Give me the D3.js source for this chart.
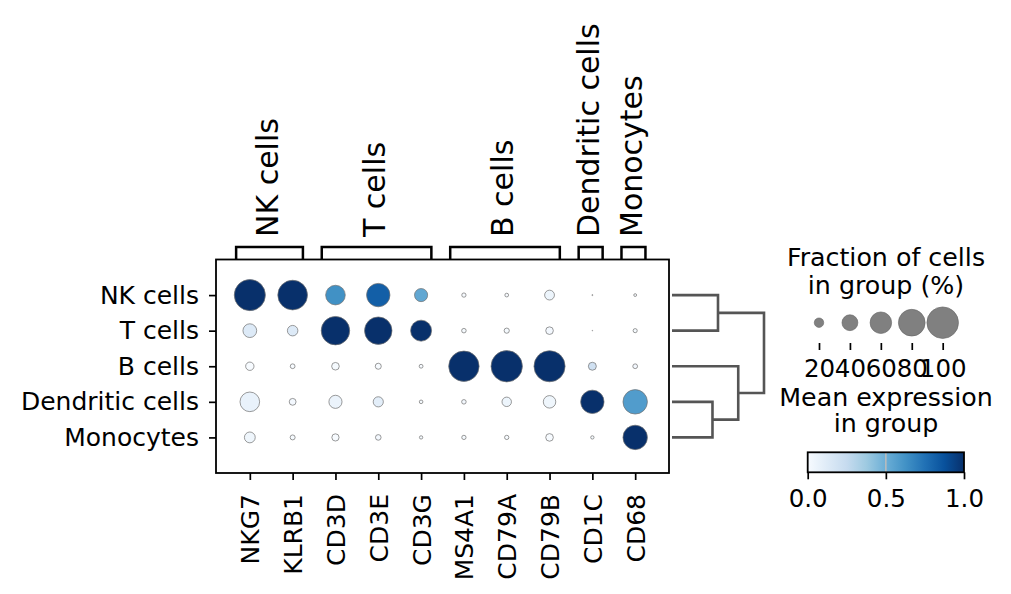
<!DOCTYPE html>
<html>
<head>
<meta charset="utf-8">
<script src="https://cdn.jsdelivr.net/npm/d3@7"></script>
<style>
  body { margin: 0; background: #fff; }
  svg text { font-family: 'DejaVu Sans', sans-serif; fill: #000; }
</style>
</head>
<body>
<svg id="chart"></svg>
<script>
// genes on the x axis, cell groups on the y axis
const genes = ['NKG7', 'KLRB1', 'CD3D', 'CD3E', 'CD3G', 'MS4A1', 'CD79A', 'CD79B', 'CD1C', 'CD68'];
const groups = ['NK cells', 'T cells', 'B cells', 'Dendritic cells', 'Monocytes'];

// marker gene groups shown as brackets on top (first / last gene index)
const bracketNames = ['NK cells', 'T cells', 'B cells', 'Dendritic cells', 'Monocytes'];
const bracketStart = [0, 2, 5, 8, 9];
const bracketEnd = [1, 4, 7, 8, 9];

// fraction of cells in group expressing the gene (rows = groups)
const fractionNK = [0.98, 0.92, 0.53, 0.67, 0.31, 0.07, 0.058, 0.21, 0.01, 0.04];
const fractionT = [0.33, 0.23, 0.87, 0.83, 0.58, 0.075, 0.09, 0.15, 0.005, 0.066];
const fractionB = [0.17, 0.08, 0.15, 0.11, 0.06, 0.95, 0.99, 0.98, 0.16, 0.08];
const fractionDC = [0.53, 0.13, 0.31, 0.22, 0.055, 0.075, 0.2, 0.29, 0.67, 0.71];
const fractionMono = [0.24, 0.085, 0.14, 0.10, 0.05, 0.07, 0.07, 0.15, 0.05, 0.71];

// mean expression, scaled 0..1 per gene
const meanNK = [1.0, 1.0, 0.63, 0.82, 0.53, 0.0, 0.0, 0.05, 0.0, 0.0];
const meanT = [0.13, 0.13, 1.0, 1.0, 1.0, 0.01, 0.01, 0.02, 0.0, 0.01];
const meanB = [0.0, 0.0, 0.01, 0.0, 0.0, 1.0, 1.0, 1.0, 0.2, 0.02];
const meanDC = [0.07, 0.02, 0.06, 0.1, 0.01, 0.02, 0.05, 0.04, 1.0, 0.58];
const meanMono = [0.04, 0.01, 0.0, 0.02, 0.01, 0.01, 0.0, 0.0, 0.01, 1.0];

// dendrogram merges: [child a, child b, height]; new nodes get ids 5, 6, ...
const dendroMerges = [[3, 4, 0.44], [0, 1, 0.50], [2, 5, 0.72], [6, 7, 1.0]];

const sizeLegendValues = [20, 40, 60, 80, 100];
const colorTicks = [0, 0.5, 1];

const fractions = [fractionNK, fractionT, fractionB, fractionDC, fractionMono];
const means = [meanNK, meanT, meanB, meanDC, meanMono];

const blues = ['#f7fbff', '#deebf7', '#c6dbef', '#9ecae1', '#6baed6', '#4292c6', '#2171b5', '#08519c', '#08306b'];

const width = 1011, height = 594;
const svg = d3.select('#chart').attr('width', width).attr('height', height);

// main panel
const plot = {left: 216, right: 669, top: 259.5, bottom: 473};

const x = d3.scaleLinear().domain([-0.79, 9.79]).range([plot.left, plot.right]);
const y = d3.scaleLinear().domain([-1, 5]).range([plot.top, plot.bottom]);
const r = d3.scalePow().exponent(0.75).domain([0, 1]).range([0, 15.8]);
const color = d3.scaleLinear()
  .domain(d3.range(blues.length).map(i => i / (blues.length - 1)))
  .range(blues);

const cells = [];
groups.forEach((g, gi) => {
  genes.forEach((gene, ji) => {
    cells.push({gi, ji, frac: fractions[gi][ji], mean: means[gi][ji]});
  });
});

svg.append('g')
  .selectAll('circle')
  .data(cells)
  .join('circle')
  .attr('cx', d => x(d.ji))
  .attr('cy', d => y(d.gi))
  .attr('r', d => r(d.frac))
  .attr('fill', d => color(d.mean))
  .attr('stroke', '#707070')
  .attr('stroke-width', 0.7);

svg.append('rect')
  .attr('x', plot.left).attr('y', plot.top)
  .attr('width', plot.right - plot.left).attr('height', plot.bottom - plot.top)
  .attr('fill', 'none').attr('stroke', '#000').attr('stroke-width', 1.8);

// axes
const xAxis = d3.axisBottom(x)
  .tickValues(d3.range(genes.length))
  .tickFormat(i => genes[i])
  .tickSize(7);
const xAxisG = svg.append('g')
  .attr('transform', `translate(0,${plot.bottom})`)
  .call(xAxis)
  .call(g => g.select('.domain').remove());
xAxisG.selectAll('line').attr('stroke-width', 1.7);
xAxisG.selectAll('text')
  .attr('font-size', 25)
  .attr('text-anchor', 'end')
  .attr('transform', 'rotate(-90)')
  .attr('x', -21).attr('y', 0).attr('dy', '0.36em');

const yAxis = d3.axisLeft(y)
  .tickValues(d3.range(groups.length))
  .tickFormat(i => groups[i])
  .tickSize(7)
  .tickPadding(10);
const yAxisG = svg.append('g')
  .attr('transform', `translate(${plot.left},0)`)
  .call(yAxis)
  .call(g => g.select('.domain').remove());
yAxisG.selectAll('line').attr('stroke-width', 1.7);
yAxisG.selectAll('text').attr('font-size', 25).attr('font-family', "'DejaVu Sans', sans-serif");

// group brackets
const bracketTop = 247;
const brackets = bracketNames.map((name, i) => ({name, s: bracketStart[i], e: bracketEnd[i]}));
const bg = svg.append('g');
bg.selectAll('path')
  .data(brackets)
  .join('path')
  .attr('d', d => `M${x(d.s - 0.32)},${plot.top}V${bracketTop}H${x(d.e + 0.24)}V${plot.top}`)
  .attr('fill', 'none').attr('stroke', '#000').attr('stroke-width', 2.5);
bg.selectAll('text')
  .data(brackets)
  .join('text')
  .attr('transform', d => `translate(${(x(d.s - 0.32) + x(d.e + 0.24)) / 2},237) rotate(-90)`)
  .attr('dy', '0.27em')
  .attr('font-size', 30)
  .text(d => d.name);

// dendrogram
const dx = d3.scaleLinear().domain([0, 1]).range([672, 764]);
const nodes = groups.map((g, i) => ({y: y(i), h: 0}));
const dg = svg.append('g');
dendroMerges.forEach(([a, b, h]) => {
  const na = nodes[a], nb = nodes[b];
  dg.append('path')
    .attr('d', `M${dx(na.h)},${na.y}H${dx(h)}V${nb.y}H${dx(nb.h)}`)
    .attr('fill', 'none').attr('stroke', '#555').attr('stroke-width', 2.6);
  nodes.push({y: (na.y + nb.y) / 2, h});
});

// size legend
const legendCx = 886;
svg.append('text').attr('x', legendCx).attr('y', 266).attr('text-anchor', 'middle')
  .attr('font-size', 25.3).text('Fraction of cells');
svg.append('text').attr('x', legendCx).attr('y', 293.5).attr('text-anchor', 'middle')
  .attr('font-size', 25.3).text('in group (%)');

const lx = d3.scaleLinear().domain([20, 100]).range([819, 942.7]);
svg.append('g')
  .selectAll('circle')
  .data(sizeLegendValues)
  .join('circle')
  .attr('cx', d => lx(d))
  .attr('cy', 322.7)
  .attr('r', d => r(d / 100))
  .attr('fill', '#808080')
  .attr('stroke', '#666')
  .attr('stroke-width', 0.6);

const sizeAxisG = svg.append('g')
  .attr('transform', 'translate(0,343)')
  .call(d3.axisBottom(lx).tickValues(sizeLegendValues).tickSize(7).tickPadding(10))
  .call(g => g.select('.domain').remove());
sizeAxisG.selectAll('line').attr('stroke-width', 1.7);
sizeAxisG.selectAll('text').attr('font-size', 24.5).attr('font-family', "'DejaVu Sans', sans-serif");

// colour legend
svg.append('text').attr('x', legendCx).attr('y', 406).attr('text-anchor', 'middle')
  .attr('font-size', 25.3).text('Mean expression');
svg.append('text').attr('x', legendCx).attr('y', 431.7).attr('text-anchor', 'middle')
  .attr('font-size', 25.3).text('in group');

const cx = d3.scaleLinear().domain([0, 1]).range([807.7, 964]);
const grad = svg.append('defs').append('linearGradient').attr('id', 'blues');
grad.selectAll('stop')
  .data(color.domain())
  .join('stop')
  .attr('offset', d => `${d * 100}%`)
  .attr('stop-color', d => color(d));

svg.append('rect')
  .attr('x', cx(0)).attr('y', 452.3)
  .attr('width', cx(1) - cx(0)).attr('height', 20)
  .attr('fill', 'url(#blues)');
svg.append('line')
  .attr('x1', cx(0.5)).attr('x2', cx(0.5))
  .attr('y1', 452.3).attr('y2', 472.3)
  .attr('stroke', '#bdbdbd').attr('stroke-width', 1.5);
svg.append('rect')
  .attr('x', cx(0)).attr('y', 452.3)
  .attr('width', cx(1) - cx(0)).attr('height', 20)
  .attr('fill', 'none').attr('stroke', '#000').attr('stroke-width', 1.8);

const colorAxisG = svg.append('g')
  .attr('transform', 'translate(0,472.3)')
  .call(d3.axisBottom(cx).tickValues(colorTicks).tickSize(7).tickPadding(10).tickFormat(d3.format('.1f')))
  .call(g => g.select('.domain').remove());
colorAxisG.selectAll('line').attr('stroke-width', 1.7);
colorAxisG.selectAll('text').attr('font-size', 24.5).attr('font-family', "'DejaVu Sans', sans-serif");
</script>
</body>
</html>
